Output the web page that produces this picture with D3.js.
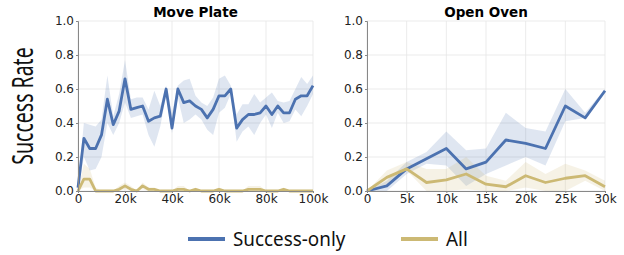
<!DOCTYPE html>
<html>
<head>
<meta charset="utf-8">
<script src="https://cdn.jsdelivr.net/npm/d3@7"></script>
<style>
body{margin:0;background:#fff;}
.axis text{font-family:"DejaVu Sans",sans-serif;font-size:12px;fill:#222;}
.axis path,.axis line{stroke:#888;}
</style>
</head>
<body>
<div id="chart"></div>
<script>
// Move Plate: steps every 2.5k up to 100k
var plateSteps = d3.range(0, 100001, 2500);
var plateSuccess = [0.02,0.31,0.25,0.25,0.33,0.54,0.39,0.47,0.66,0.48,0.49,0.50,0.41,0.43,0.44,0.60,0.37,0.60,0.52,0.53,0.50,0.48,0.43,0.48,0.56,0.56,0.60,0.37,0.42,0.45,0.45,0.46,0.50,0.45,0.50,0.46,0.46,0.54,0.56,0.56,0.62];
var plateSuccessHi = [0.04,0.40,0.39,0.38,0.42,0.68,0.44,0.57,0.77,0.54,0.55,0.55,0.48,0.59,0.50,0.62,0.46,0.62,0.65,0.66,0.56,0.52,0.50,0.55,0.66,0.68,0.62,0.45,0.51,0.51,0.57,0.52,0.55,0.58,0.53,0.52,0.53,0.60,0.67,0.63,0.68];
var plateSuccessLo = [0.00,0.20,0.12,0.13,0.20,0.40,0.33,0.40,0.52,0.43,0.44,0.45,0.33,0.26,0.38,0.56,0.34,0.55,0.40,0.42,0.45,0.42,0.36,0.33,0.46,0.49,0.57,0.29,0.35,0.38,0.33,0.40,0.45,0.37,0.46,0.40,0.41,0.48,0.44,0.50,0.57];
var plateAll = [0,0.07,0.07,0,0,0,0,0.01,0.03,0.01,0,0.03,0.01,0.01,0,0,0,0.01,0.01,0,0.01,0,0,0,0.01,0,0,0,0,0.01,0.01,0.01,0,0,0,0.01,0,0,0,0,0];
var plateAllHi = [0,0.16,0.13,0.02,0,0,0,0.03,0.05,0.03,0,0.05,0.02,0.02,0,0,0,0.03,0.03,0,0.02,0,0,0,0.02,0,0,0,0,0.03,0.03,0.03,0,0,0,0.02,0,0,0,0,0];
var plateAllLo = [0,0.02,0.02,0,0,0,0,0,0.01,0,0,0.01,0,0,0,0,0,0,0,0,0,0,0,0,0,0,0,0,0,0,0,0,0,0,0,0,0,0,0,0,0];

// Open Oven: steps every 2.5k up to 30k
var ovenSteps = d3.range(0, 30001, 2500);
var ovenSuccess = [0,0.03,0.13,0.19,0.25,0.13,0.17,0.30,0.28,0.25,0.50,0.43,0.59];
var ovenSuccessHi = [0,0.06,0.17,0.23,0.35,0.24,0.25,0.46,0.37,0.35,0.60,0.46,0.60];
var ovenSuccessLo = [0,0.00,0.10,0.16,0.15,0.03,0.10,0.15,0.20,0.15,0.41,0.43,0.58];
var ovenAll = [0,0.08,0.13,0.05,0.065,0.10,0.04,0.025,0.09,0.05,0.075,0.09,0.025];
var ovenAllHi = [0,0.12,0.17,0.13,0.13,0.20,0.09,0.06,0.17,0.10,0.16,0.12,0.06];
var ovenAllLo = [0,0.04,0.12,0.00,0.00,0.01,0.00,0.00,0.02,0.00,0.00,0.06,0.00];

var yTicks = [0,0.2,0.4,0.6,0.8,1.0];
var seriesNames = ["Success-only","All"];
var seriesColors = ["#4c72b0","#ccb974"];

var W = 624, H = 255;
var svg = d3.select("#chart").append("svg").attr("width", W).attr("height", H);

function zip(steps, mean, lo, hi){
	return steps.map(function(s,i){return {x:s, y:mean[i], lo:lo[i], hi:hi[i]};});
}

function panel(left, right, title, steps, xMax, xTicks, series){
	var top = 21, bottom = 191;
	var x = d3.scaleLinear().domain([0, xMax]).range([left, right]);
	var y = d3.scaleLinear().domain([0, 1]).range([bottom, top]);
	var g = svg.append("g");

	// grid
	g.selectAll(".gx").data(xTicks).enter().append("line")
	 .attr("x1", function(d){return x(d);}).attr("x2", function(d){return x(d);})
	 .attr("y1", top).attr("y2", bottom)
	 .attr("stroke", "#e6e6e6").attr("stroke-width", 0.8);
	g.selectAll(".gy").data(yTicks).enter().append("line")
	 .attr("x1", left).attr("x2", right)
	 .attr("y1", function(d){return y(d);}).attr("y2", function(d){return y(d);})
	 .attr("stroke", "#e6e6e6").attr("stroke-width", 0.8);

	var area = d3.area().x(function(d){return x(d.x);})
	 .y0(function(d){return y(d.lo);}).y1(function(d){return y(d.hi);});
	var line = d3.line().x(function(d){return x(d.x);}).y(function(d){return y(d.y);});

	series.forEach(function(s,i){
		g.append("path").datum(s).attr("d", area)
		 .attr("fill", seriesColors[i]).attr("fill-opacity", 0.18).attr("stroke", "none");
	});
	series.forEach(function(s,i){
		g.append("path").datum(s).attr("d", line)
		 .attr("fill", "none").attr("stroke", seriesColors[i])
		 .attr("stroke-width", 2.8).attr("stroke-linejoin", "round");
	});

	g.append("g").attr("class", "axis")
	 .attr("transform", "translate(0," + bottom + ")")
	 .call(d3.axisBottom(x).tickValues(xTicks).tickSize(2).tickPadding(1)
	   .tickFormat(function(d){return d === 0 ? "0" : (d/1000) + "k";}));
	g.append("g").attr("class", "axis")
	 .attr("transform", "translate(" + left + ",0)")
	 .call(d3.axisLeft(y).tickValues(yTicks).tickSize(2).tickPadding(2).tickFormat(d3.format(".1f")));

	g.append("text")
	 .attr("x", (left + right) / 2).attr("y", 17)
	 .attr("text-anchor", "middle")
	 .style("font-family", "DejaVu Sans, sans-serif").style("font-weight", "bold").style("font-size", "13.5px")
	 .text(title);
}

panel(78, 313, "Move Plate", plateSteps, 100000, d3.range(0, 100001, 20000), [
	zip(plateSteps, plateSuccess, plateSuccessLo, plateSuccessHi),
	zip(plateSteps, plateAll, plateAllLo, plateAllHi)
]);
panel(367, 605, "Open Oven", ovenSteps, 30000, d3.range(0, 30001, 5000), [
	zip(ovenSteps, ovenSuccess, ovenSuccessLo, ovenSuccessHi),
	zip(ovenSteps, ovenAll, ovenAllLo, ovenAllHi)
]);

// y label (the source font is tall and narrow)
svg.append("text")
 .attr("transform", "translate(33,106) rotate(-90) scale(1,1.47)")
 .attr("text-anchor", "middle")
 .style("font-family", "Noto Sans, sans-serif").style("font-size", "19.5px").style("fill", "#111")
 .text("Success Rate");

// legend
var legendX = [188, 401];
seriesNames.forEach(function(n,i){
	svg.append("line").attr("x1", legendX[i]).attr("x2", legendX[i] + 37)
	 .attr("y1", 239).attr("y2", 239)
	 .attr("stroke", seriesColors[i]).attr("stroke-width", 4);
	svg.append("text")
	 .attr("transform", "translate(" + (legendX[i] + 45) + ",246) scale(0.92,1)")
	 .style("font-family", "Noto Sans, sans-serif").style("font-size", "20.5px").style("fill", "#111")
	 .text(n);
});
</script>
</body>
</html>
